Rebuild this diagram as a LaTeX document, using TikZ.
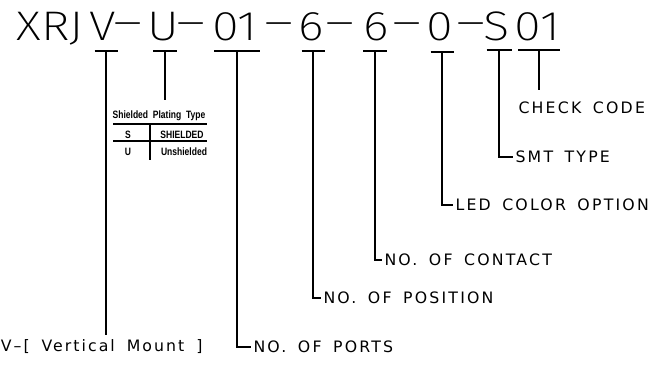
\documentclass[tikz,border=0pt]{standalone}
\usepackage{fontspec}
\setmainfont{DejaVu Sans}
\newfontfamily\codefont{Fira Sans ExtraLight}[FakeStretch=1.18]
\newfontfamily\fieldfont{DejaVu Sans}[LetterSpace=14,WordSpace=1.6]
\newfontfamily\mountfont{DejaVu Sans}[LetterSpace=13,WordSpace=1.7]
\newfontfamily\tablefont{Liberation Sans}[FakeStretch=0.8]
\newcommand{\codedash}{\scalebox{1.15}[1]{\raisebox{2.5pt}{\textendash}}}
\usetikzlibrary{calc,positioning}
\tikzset{
   every path/.style={line width=0.8pt},
   code/.style={font=\codefont\fontsize{31}{32}\selectfont,inner sep=0pt,anchor=base},
   field/.style={font=\fieldfont\fontsize{11.8}{13}\selectfont,inner ysep=0pt,inner xsep=1.5pt,anchor=west},
   cell/.style={font=\tablefont\bfseries\fontsize{8}{9}\selectfont,inner sep=0pt},
}

\begin{document}
\begin{tikzpicture}[x=0.75pt,y=-0.75pt]

\useasboundingbox (0,0) rectangle (651,365);

% =========================================================
% part number
% =========================================================

\node[code] (pre)  at (50,40)    {XRJ};
\node[code] (ver)  at (103,40)   {V};
\node[code] (d1)   at (128,40)   {\codedash};
\node[code] (shl)  at (163,40)   {U};
\node[code] (d2)   at (191.5,40) {\codedash};
\node[code] (prt)  at (235,40)   {01};
\node[code] (d3)   at (279,40)   {\codedash};
\node[code] (pos)  at (311,40)   {6};
\node[code] (d4)   at (340,40)   {\codedash};
\node[code] (con)  at (376,40)   {6};
\node[code] (d5)   at (407.5,40) {\codedash};
\node[code] (led)  at (440,40)   {0};
\node[code] (d6)   at (471.5,40) {\codedash};
\node[code] (smt)  at (497,40)   {S};
\node[code] (chk)  at (537.5,40) {01};


% =========================================================
% bars under the fields
% =========================================================

\foreach \n/\px/\py/\w in {b1/106/51/11.5, b2/165/51/12, b3/237/51/23,
   b4/313/51/11.5, b5/375/51/12, b6/442/52/11.5, b7/499/50/12.5, b8/539/50/21}
{
   \coordinate (\n) at (\px,\py);
   \draw ($(\n)+(-\w,0)$) -- ($(\n)+(\w,0)$);
}


% =========================================================
% field labels
% =========================================================

\node[field] (lchk) at (516,108) {CHECK CODE};
\node[field] (lsmt) at (513,157) {SMT TYPE};
\node[field] (lled) at (453,205) {LED COLOR OPTION};
\node[field] (lcon) at (382,260) {NO. OF CONTACT};
\node[field] (lpos) at (321,298) {NO. OF POSITION};
\node[field] (lprt) at (251,347) {NO. OF PORTS};

\node[field,font=\mountfont\fontsize{11.8}{13}\selectfont,anchor=base east]
   (lver) at (205,351) {V\textendash[ Vertical Mount ]};

\coordinate (chkend) at (539,90);
\coordinate (verend) at (106,335);
\coordinate (shlend) at (165,100);

\draw (b8) -- (chkend);
\draw (b7) |- (lsmt.west);
\draw (b6) |- (lled.west);
\draw (b5) |- (lcon.west);
\draw (b4) |- (lpos.west);
\draw (b3) |- (lprt.west);
\draw (b1) -- (verend);
\draw (b2) -- (shlend);


% =========================================================
% shielded table
% =========================================================

\node[cell] (thead) at (159,115.5) {Shielded\ \ Plating\ \ Type};
\node[cell] (ts)    at (128,134.5) {S};
\node[cell] (tsv)   at (182,134.5) {SHIELDED};
\node[cell] (tu)    at (128,151.5) {U};
\node[cell] (tuv)   at (184,151.5) {Unshielded};

\coordinate (r1l) at (113,124);
\coordinate (r1r) at (207,124);
\coordinate (r2l) at (113,141);
\coordinate (r2r) at (207,141);
\coordinate (ctop) at (150,124);
\coordinate (cbot) at (150,160);

\draw (r1l) -- (r1r);
\draw (r2l) -- (r2r);
\draw (ctop) -- (cbot);

\end{tikzpicture}
\end{document}
